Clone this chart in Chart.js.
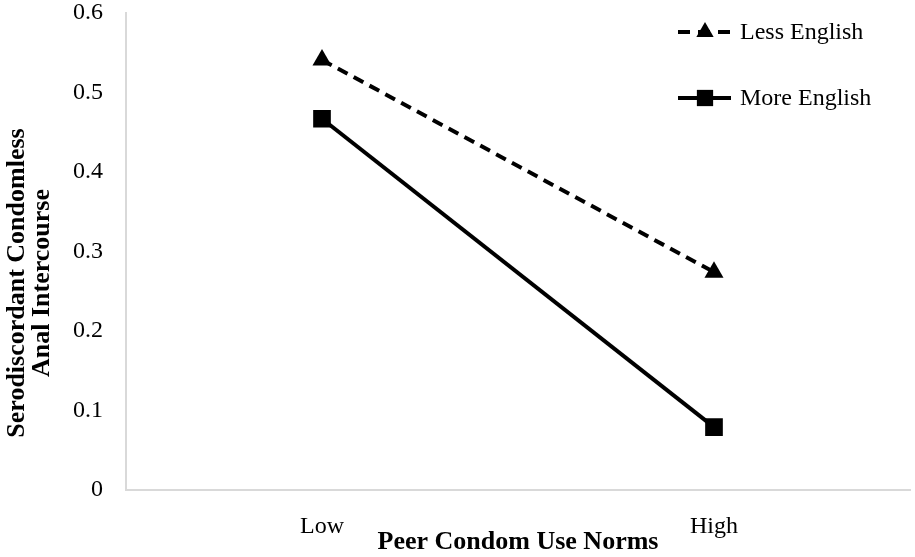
<!DOCTYPE html>
<html>
<head>
<meta charset="utf-8">
<script src="https://cdn.jsdelivr.net/npm/chart.js@4"></script>
<style>
  html, body { margin: 0; padding: 0; background: #fff; }
  #wrap { width: 915px; height: 557px; }
</style>
</head>
<body>
<div id="wrap"><canvas id="chart" width="915" height="557"></canvas></div>
<script>
// Data
const categories = ['Low', 'High'];
const lessEnglish = [0.541, 0.274];
const moreEnglish = [0.467, 0.079];
const seriesNames = ['Less English', 'More English'];
const yTicks = [0, 0.1, 0.2, 0.3, 0.4, 0.5, 0.6];
const xTitle = 'Peer Condom Use Norms';
const yTitle = ['Serodiscordant Condomless', 'Anal Intercourse'];

const serif = "'Liberation Serif', 'Times New Roman', serif";

// Legend (line + marker + name) and axis titles drawn on the canvas
const labelsPlugin = {
    id: 'labels',
    afterDraw(chart) {
        const ctx = chart.ctx;
        const area = chart.chartArea;
        const rowsY = [32, 98];
        chart.data.datasets.forEach(function (ds, i) {
            const y = rowsY[i];
            ctx.save();
            ctx.strokeStyle = '#000';
            ctx.lineWidth = 4;
            ctx.setLineDash(ds.borderDash ? [12, 8] : []);
            ctx.beginPath();
            ctx.moveTo(678, y);
            ctx.lineTo(731, y);
            ctx.stroke();
            ctx.setLineDash([]);
            ctx.fillStyle = '#000';
            Chart.helpers.drawPoint(ctx, { pointStyle: ds.pointStyle, radius: ds.legendRadius, borderWidth: 0 }, 705, y);
            ctx.font = '24px ' + serif;
            ctx.textBaseline = 'middle';
            ctx.fillText(ds.label, 740, y + 1);
            ctx.restore();
        });

        ctx.save();
        ctx.fillStyle = '#000';
        ctx.font = 'bold 26px ' + serif;
        ctx.textAlign = 'center';
        ctx.textBaseline = 'middle';
        ctx.fillText(xTitle, (area.left + area.right) / 2, 542);
        ctx.translate(0, 283);
        ctx.rotate(-Math.PI / 2);
        ctx.fillText(yTitle[0], 0, 17);
        ctx.fillText(yTitle[1], 0, 42);
        ctx.restore();
    }
};

function initChart() {
    const ctx = document.getElementById('chart').getContext('2d');
    new Chart(ctx, {
        type: 'line',
        data: {
            labels: categories,
            datasets: [{
                label: seriesNames[0],
                data: lessEnglish,
                borderColor: '#000',
                backgroundColor: '#000',
                borderWidth: 4,
                borderDash: [11, 7],
                pointStyle: 'triangle',
                pointRadius: 11,
                legendRadius: 10,
                pointBorderWidth: 0,
                fill: false
            }, {
                label: seriesNames[1],
                data: moreEnglish,
                borderColor: '#000',
                backgroundColor: '#000',
                borderWidth: 4,
                pointStyle: 'rect',
                pointRadius: 12.5,
                legendRadius: 11.5,
                pointBorderWidth: 0,
                fill: false
            }]
        },
        options: {
            responsive: false,
            animation: false,
            layout: { autoPadding: false, padding: { top: 13, right: 5, left: 0, bottom: 0 } },
            plugins: {
                legend: { display: false },
                tooltip: { enabled: false }
            },
            scales: {
                x: {
                    offset: true,
                    grid: { display: false, drawTicks: false },
                    border: { color: '#d9d9d9', width: 2 },
                    ticks: {
                        color: '#000',
                        padding: 22,
                        font: { family: serif, size: 24 }
                    },
                    afterFit: function (axis) { axis.height = 67; }
                },
                y: {
                    min: 0,
                    max: 0.6,
                    grid: { display: false, drawTicks: false },
                    border: { color: '#d9d9d9', width: 2 },
                    afterBuildTicks: function (axis) {
                        axis.ticks = yTicks.map(function (v) { return { value: v }; });
                    },
                    ticks: {
                        color: '#000',
                        padding: 23,
                        font: { family: serif, size: 24 },
                        callback: function (v) { return String(v); }
                    },
                    afterFit: function (axis) {
                        axis.width = 126;
                        axis.paddingTop = 0;
                        axis.paddingBottom = 0;
                    }
                }
            }
        },
        plugins: [labelsPlugin]
    });
}

document.addEventListener('DOMContentLoaded', function () {
    initChart();
});
</script>
</body>
</html>
